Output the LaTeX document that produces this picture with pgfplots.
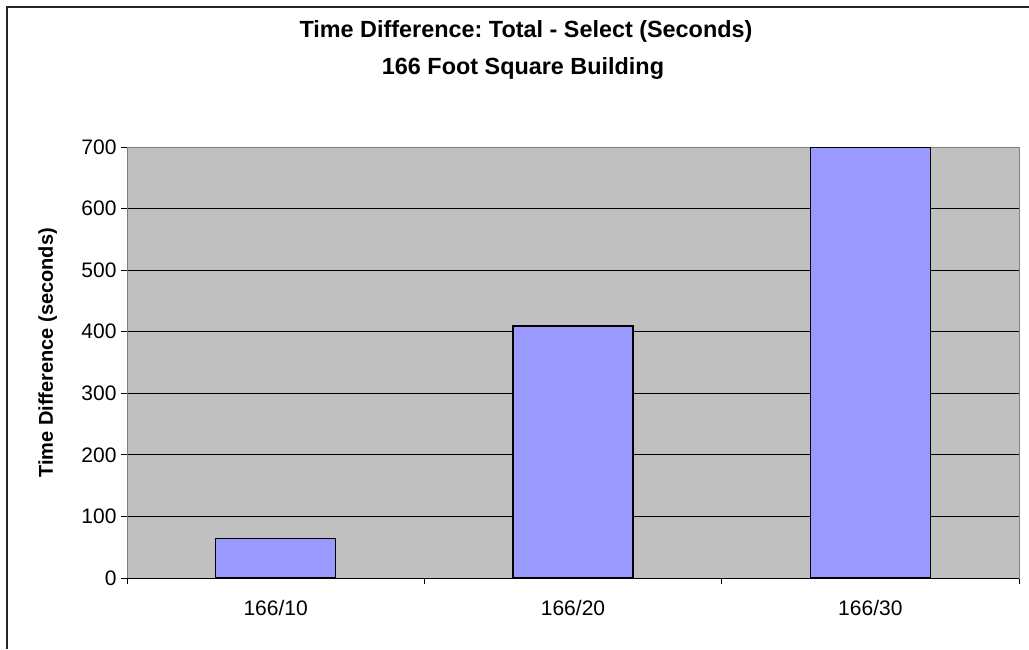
\documentclass[border=0pt]{standalone}
\usepackage{pgfplots}
\pgfplotsset{compat=1.18}
\usepackage{fontspec}
\setmainfont{Liberation Sans}
\frenchspacing
\definecolor{barblue}{HTML}{9999FF}
\definecolor{plotgray}{HTML}{C0C0C0}
\begin{document}
\begin{tikzpicture}[x=1pt,y=1pt]
\useasboundingbox (0,0) rectangle (1029,649);
\fill[white] (0,0) rectangle (1029,649);
\begin{axis}[
  at={(127pt,71pt)}, anchor=south west,
  scale only axis, width=892pt, height=431pt,
  xmin=0.5, xmax=3.5, ymin=0, ymax=700,
  axis background/.style={fill=plotgray},
  axis line style={draw=black!50, line width=1pt},
  xtick={0.5,1.5,2.5,3.5}, xticklabels={},
  extra x ticks={1,2,3},
  extra x tick labels={166/10,166/20,166/30},
  extra x tick style={major tick length=0pt, grid=none},
  ytick={0,100,...,700},
  xtick pos=bottom, ytick pos=left,
  tick align=outside, major tick length=6pt,
  tick style={black, line width=0.8pt},
  ymajorgrids, grid style={black, line width=0.8pt},
  tick label style={font=\fontsize{21}{24}\selectfont},
  /pgf/number format/assume math mode=true,
  xticklabel style={yshift=-19pt},
  yticklabel style={xshift=-1pt},
]
\addplot[ybar, bar width=120pt, fill=barblue, draw=black, line width=1.5pt]
  coordinates {(1,64) (2,409) (3,700)};
\draw[black, line width=1pt] (axis cs:0.5,0) -- (axis cs:3.5,0);
\end{axis}
\node[font=\fontsize{23.4}{28}\selectfont\bfseries, anchor=base] at (526,611) {Time Difference: Total - Select (Seconds)};
\node[font=\fontsize{23.4}{28}\selectfont\bfseries, anchor=base] at (523,574) {166 Foot Square Building};
\node[font=\fontsize{20}{24}\selectfont\bfseries, rotate=90, anchor=base] at (53,296) {Time Difference (seconds)};
\draw[line width=2pt, black!85] (6.5,0) |- (1029,641.5);
\end{tikzpicture}
\end{document}
